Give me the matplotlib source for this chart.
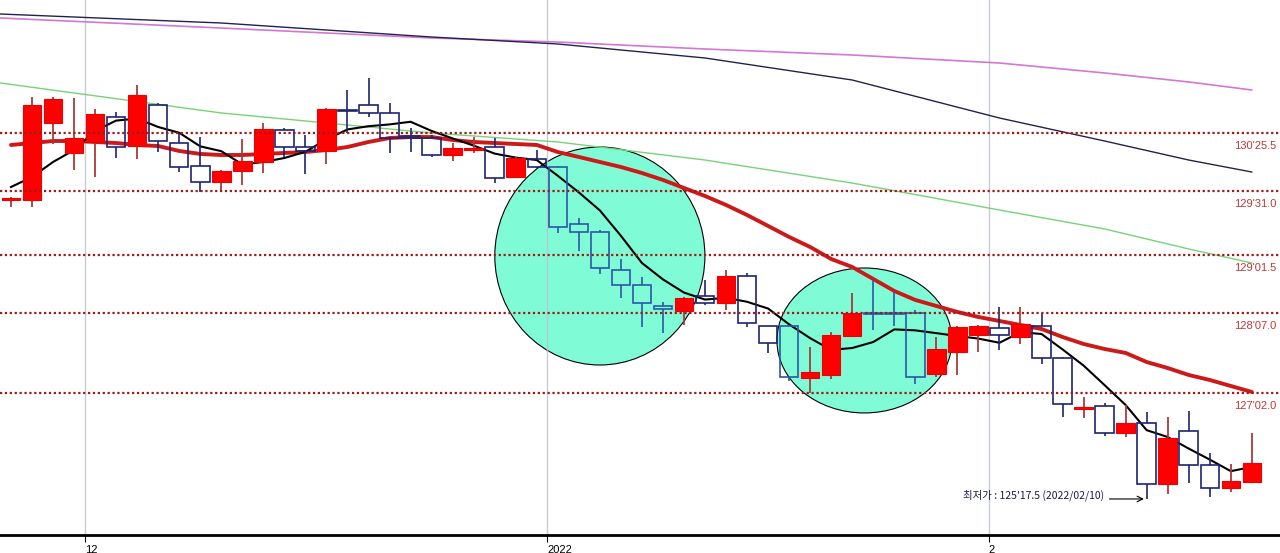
import matplotlib
matplotlib.use('Agg')
import matplotlib.pyplot as plt
import matplotlib.transforms as mtransforms
from matplotlib.patches import Ellipse
import numpy as np

# daily candles, prices in points (125'17.5 = 125 + 17.5/32)
opens = [129.836, 129.836, 130.940, 130.510, 130.668, 131.026, 130.610, 131.199, 130.653, 130.323,
         130.094, 130.252, 130.381, 130.840, 130.596, 130.539, 131.127, 131.199, 131.084, 130.754,
         130.725, 130.481, 130.553, 130.596, 130.166, 130.424, 130.309, 129.491, 129.376, 128.831,
         128.616, 128.315, 128.243, 128.458, 128.358, 128.745, 128.028, 128.028, 127.282, 127.325,
         127.884, 128.214, 128.214, 128.214, 127.339, 127.655, 127.899, 127.999, 127.870, 128.028,
         127.569, 126.837, 126.880, 126.493, 126.636, 125.761, 126.521, 126.034, 125.704, 125.790]
highs = [129.879, 131.313, 131.313, 131.299, 131.141, 131.098, 131.486, 131.227, 130.797, 130.739,
         130.266, 130.711, 130.940, 130.869, 130.768, 131.156, 131.414, 131.586, 131.227, 130.869,
         130.768, 130.653, 130.739, 130.725, 130.453, 130.553, 130.323, 129.577, 129.405, 128.989,
         128.731, 128.372, 128.444, 128.688, 128.831, 128.788, 128.028, 128.042, 127.727, 127.942,
         128.501, 128.688, 128.516, 128.257, 127.870, 128.028, 128.042, 128.300, 128.300, 128.214,
         127.583, 127.009, 126.923, 126.894, 126.794, 126.722, 126.808, 126.206, 126.048, 126.493]
lows = [129.735, 129.735, 130.639, 130.266, 130.166, 130.438, 130.424, 130.524, 130.237, 129.950,
        129.950, 130.051, 130.223, 130.453, 130.209, 130.352, 130.797, 131.026, 130.510, 130.524,
        130.453, 130.395, 130.510, 130.079, 130.166, 130.295, 129.362, 129.104, 128.774, 128.430,
        128.014, 127.927, 128.042, 128.329, 128.257, 128.014, 127.641, 127.239, 127.067, 127.267,
        127.884, 127.970, 128.028, 127.196, 127.296, 127.325, 127.655, 127.684, 127.770, 127.483,
        126.722, 126.708, 126.450, 126.435, 125.546, 125.618, 125.775, 125.575, 125.646, 125.790]
closes = [129.864, 131.199, 131.285, 130.725, 131.069, 130.596, 131.342, 130.682, 130.309, 130.094,
          130.252, 130.395, 130.854, 130.596, 130.539, 131.141, 131.112, 131.084, 130.725, 130.725,
          130.481, 130.582, 130.582, 130.151, 130.438, 130.309, 129.448, 129.376, 128.860, 128.616,
          128.358, 128.272, 128.430, 128.358, 128.745, 128.071, 127.784, 127.296, 127.368, 127.899,
          128.214, 128.200, 128.200, 127.296, 127.698, 128.014, 128.028, 127.899, 128.057, 127.569,
          126.909, 126.866, 126.493, 126.636, 125.761, 126.421, 126.034, 125.704, 125.804, 126.062]

# moving averages
ma5 = [130.022, 130.166, 130.381, 130.553, 130.828, 130.975, 131.003, 130.883, 130.800, 130.605,
       130.536, 130.346, 130.381, 130.438, 130.527, 130.705, 130.848, 130.894, 130.920, 130.958,
       130.826, 130.719, 130.616, 130.501, 130.444, 130.409, 130.183, 129.945, 129.686, 129.322,
       128.932, 128.696, 128.507, 128.407, 128.432, 128.375, 128.278, 128.051, 127.853, 127.684,
       127.712, 127.798, 127.979, 127.965, 127.925, 127.884, 127.847, 127.787, 127.939, 127.913,
       127.692, 127.460, 127.179, 126.894, 126.533, 126.435, 126.269, 126.111, 125.945, 126.005]
ma20 = [130.625, 130.653, 130.682, 130.682, 130.668, 130.653, 130.625, 130.610, 130.539, 130.496,
        130.481, 130.481, 130.496, 130.510, 130.524, 130.553, 130.596, 130.668, 130.725, 130.739,
        130.739, 130.696, 130.668, 130.653, 130.639, 130.625, 130.524, 130.453, 130.381, 130.309,
        130.223, 130.123, 130.008, 129.893, 129.764, 129.620, 129.463, 129.305, 129.161, 128.989,
        128.874, 128.702, 128.530, 128.401, 128.315, 128.229, 128.157, 128.100, 128.042, 127.985,
        127.870, 127.770, 127.698, 127.641, 127.511, 127.425, 127.325, 127.253, 127.167, 127.081]
long_idx = [-0.5, 10, 20, 26, 33, 40, 47, 52, 56, 59]
ma60 = [131.514, 131.084, 130.797, 130.668, 130.409, 130.079, 129.692, 129.420, 129.133, 128.932]
ma120 = [132.504, 132.375, 132.174, 132.074, 131.873, 131.557, 131.012, 130.682, 130.409, 130.237]
ma200 = [132.447, 132.303, 132.160, 132.102, 132.002, 131.916, 131.801, 131.658, 131.529, 131.414]

level_prices = [130.797, 129.969, 129.047, 128.219, 127.0625]
level_labels = ["130'25.5", "129'31.0", "129'01.5", "128'07.0", "127'02.0"]

month_start = [4, 26, 47]
month_labels = ['12', '2022', '2']

# candles sitting inside the highlighted zones
zone_candles = [26, 27, 28, 29, 30, 31, 32, 37, 38, 39, 40, 41, 42, 43]

low_idx = 54
low_text = "최저가 : 125'17.5 (2022/02/10)"

fig = plt.figure(figsize=(12.8, 5.53), dpi=100)
ax = fig.add_axes([0, 18 / 553, 1, 535 / 553])
ax.set_xlim(-0.523, 60.34)
ax.set_ylim(125.029, 132.705)

x = np.arange(len(opens))
o = np.array(opens); h = np.array(highs); l = np.array(lows); c = np.array(closes)
up = c >= o
body_lo = np.minimum(o, c)
body_hi = np.maximum(o, c)
body_h = np.maximum(body_hi - body_lo, 0.004)

# highlighted zones
for cx, cy, w, hh in [(28.0, 129.032, 9.99, 3.128), (40.58, 127.820, 8.32, 2.08)]:
    ax.add_patch(Ellipse((cx, cy), w, hh, facecolor='#7ffcd6', edgecolor='black', lw=0.8, zorder=1))

for p in month_start:
    ax.axvline(p - 0.5, color='#b8c0cc', lw=1, alpha=0.8, zorder=1.5)

ax.plot(long_idx, ma200, color='#d278d2', lw=1.2, zorder=2)
ax.plot(long_idx, ma120, color='#22224e', lw=1.0, zorder=2)
ax.plot(long_idx, ma60, color='#78d278', lw=1.0, zorder=2)
ax.plot(x, ma20, color='#cc1a1a', lw=2.8, solid_capstyle='round', zorder=2)
ax.plot(x, ma5, color='black', lw=1.5, zorder=2.2)

# candles
dn_col = np.array(['#1e2470'] * len(x), dtype=object)
dn_col[zone_candles] = '#2a58a8'
ax.vlines(x[up], l[up], h[up], color='#a83a3a', lw=1.3, zorder=3)
ax.bar(x[up], body_h[up], bottom=body_lo[up], width=0.88, color='#ff0000',
       edgecolor='#ee0000', lw=0.8, zorder=3.2)
dn = ~up
ax.vlines(x[dn], body_hi[dn], h[dn], colors=list(dn_col[dn]), lw=1.2, zorder=3)
ax.vlines(x[dn], l[dn], body_lo[dn], colors=list(dn_col[dn]), lw=1.2, zorder=3)
ax.bar(x[dn], body_h[dn], bottom=body_lo[dn], width=0.88, facecolor='none',
       edgecolor=list(dn_col[dn]), lw=1.2, zorder=3.2)

trans = mtransforms.blended_transform_factory(ax.transAxes, ax.transData)
for p, lab in zip(level_prices, level_labels):
    ax.axhline(p, color='#a01a1a', lw=1.6, dashes=(1, 1.2), zorder=4)
    ax.text(0.997, p - 0.187, lab, transform=trans, ha='right', va='center',
            fontsize=8, color='#c03838', family='Liberation Sans')

ax.annotate('', xy=(low_idx, lows[low_idx]), xytext=(52.1, lows[low_idx]),
            arrowprops=dict(arrowstyle='->', color='black', lw=0.8), zorder=5)
ax.text(52.0, 125.603, low_text, ha='right', va='center', fontsize=7.5, color='#1a1a4a',
        family=['Noto Sans CJK KR', 'DejaVu Sans'], zorder=5)

ax.set_xticks([p - 0.5 for p in month_start])
ax.set_xticklabels(month_labels, ha='left', fontsize=8, family='Liberation Sans')
ax.tick_params(axis='x', direction='out', length=5, width=0.8, pad=2)
ax.set_yticks([])
for s in ['top', 'right', 'left']:
    ax.spines[s].set_visible(False)
ax.spines['bottom'].set_linewidth(2)
ax.spines['bottom'].set_color('black')

fig.savefig('out.png', dpi=100)
